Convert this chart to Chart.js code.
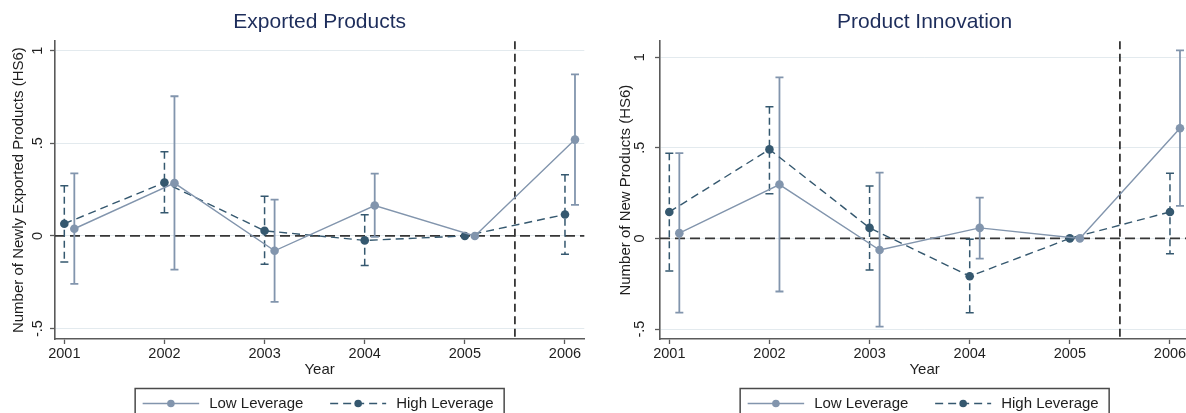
<!DOCTYPE html>
<html>
<head>
<meta charset="utf-8">
<script src="https://cdn.jsdelivr.net/npm/chart.js@4"></script>
<style>
  html, body { margin: 0; padding: 0; background: #fff; }
  body { width: 1186px; height: 413px; overflow: hidden; position: relative; }
  .panel { position: absolute; top: 0; }
  #left { left: 0; }
  #right { left: 600px; }
</style>
</head>
<body>
<div class="panel" id="left"><canvas id="cExport" width="600" height="413"></canvas></div>
<div class="panel" id="right"><canvas id="cInnov" width="606" height="413"></canvas></div>
<script>
// Event-study coefficients by year (2005 is the base year)
const years = [2001, 2002, 2003, 2004, 2005, 2006];
const yTickValues = [-0.5, 0, 0.5, 1];
const yTickLabels = ['-.5', '0', '.5', '1'];

// Exported products
const expLow     = [0.039, 0.285, -0.080, 0.164, 0, 0.520];
const expLowCiLo = [-0.259, -0.182, -0.356, -0.005, null, 0.168];
const expLowCiHi = [0.338, 0.754, 0.196, 0.336, null, 0.872];
const expHigh     = [0.066, 0.288, 0.028, -0.024, 0, 0.116];
const expHighCiLo = [-0.141, 0.125, -0.153, -0.159, null, -0.099];
const expHighCiHi = [0.271, 0.454, 0.214, 0.114, null, 0.331];

// Product innovation
const innLow     = [0.029, 0.297, -0.064, 0.058, 0, 0.608];
const innLowCiLo = [-0.410, -0.293, -0.487, -0.112, null, 0.179];
const innLowCiHi = [0.470, 0.888, 0.363, 0.225, null, 1.037];
const innHigh     = [0.146, 0.491, 0.058, -0.209, 0, 0.146];
const innHighCiLo = [-0.180, 0.247, -0.174, -0.410, null, -0.085];
const innHighCiHi = [0.470, 0.727, 0.289, -0.005, null, 0.360];

const FONT = "'Liberation Sans', Arial, Helvetica, sans-serif";
const LOW_COLOR = '#8295ad';
const HIGH_COLOR = '#35586f';
const AXIS_COLOR = '#5a5a5a';
const GRID_COLOR = '#e3eaee';
const REF_COLOR = '#363636';
const TEXT_COLOR = '#1e1e1e';
const TITLE_COLOR = '#1d2d5b';
const LOW_SHIFT = 0.1;   // low-leverage estimates are nudged right so bars don't overlap
const TREAT_YEAR = 2005.5;

Chart.defaults.font.family = FONT;

// Reference lines (y = 0, treatment) and confidence-interval whiskers
const overlayPlugin = {
  id: 'overlay',
  beforeDatasetsDraw(chart) {
    const {ctx, chartArea: a, scales: {x, y}} = chart;
    ctx.save();
    ctx.strokeStyle = REF_COLOR;
    ctx.lineWidth = 1.8;
    ctx.setLineDash([10, 5]);
    const y0 = y.getPixelForValue(0);
    ctx.beginPath(); ctx.moveTo(a.left, y0); ctx.lineTo(a.right, y0); ctx.stroke();
    const xv = x.getPixelForValue(TREAT_YEAR);
    ctx.setLineDash([8, 4.5]);
    ctx.beginPath(); ctx.moveTo(xv, a.top); ctx.lineTo(xv, a.bottom); ctx.stroke();

    chart.data.datasets.forEach(ds => {
      ctx.strokeStyle = ds.borderColor;
      ctx.lineWidth = ds.ciWidth;
      ds.data.forEach((pt, i) => {
        const lo = ds.ciLo[i], hi = ds.ciHi[i];
        if (lo == null || hi == null) return;
        const px = x.getPixelForValue(pt.x);
        const pl = y.getPixelForValue(lo), ph = y.getPixelForValue(hi);
        ctx.setLineDash(ds.ciDash);
        ctx.beginPath(); ctx.moveTo(px, ph); ctx.lineTo(px, pl); ctx.stroke();
        ctx.setLineDash([]);
        ctx.beginPath();
        ctx.moveTo(px - 4, ph); ctx.lineTo(px + 4, ph);
        ctx.moveTo(px - 4, pl); ctx.lineTo(px + 4, pl);
        ctx.stroke();
      });
    });
    ctx.restore();
  },
  afterDraw(chart) {
    // boxed legend below the axis
    const {ctx, chartArea: a} = chart;
    const boxW = 369;
    const L = (a.left + a.right) / 2 - boxW / 2;
    const T = 388.5;
    const cy = 403.5;
    ctx.save();
    ctx.strokeStyle = '#4a4a4a';
    ctx.lineWidth = 1.5;
    ctx.strokeRect(L, T, boxW, 40);
    const items = chart.data.datasets.map((ds, i) => ({ds, x0: L + (i === 0 ? 7.5 : 195), x1: L + (i === 0 ? 64 : 251), tx: L + (i === 0 ? 74 : 261)}));
    items.forEach(({ds, x0, x1, tx}) => {
      ctx.strokeStyle = ds.borderColor;
      ctx.lineWidth = ds.borderWidth;
      ctx.setLineDash(ds.borderDash || []);
      ctx.beginPath(); ctx.moveTo(x0, cy); ctx.lineTo(x1, cy); ctx.stroke();
      ctx.setLineDash([]);
      ctx.fillStyle = ds.borderColor;
      ctx.beginPath(); ctx.arc((x0 + x1) / 2, cy, 3.8, 0, Math.PI * 2); ctx.fill();
      ctx.fillStyle = TEXT_COLOR;
      ctx.font = '15px ' + FONT;
      ctx.textBaseline = 'middle';
      ctx.textAlign = 'left';
      ctx.fillText(ds.label, tx, cy);
    });
    ctx.restore();
  }
};

function makePanel(canvasId, opts) {
  const pts = (vals, shift) => years.map((yr, i) => ({x: yr + shift, y: vals[i]}));
  return new Chart(document.getElementById(canvasId), {
    type: 'line',
    data: {
      datasets: [
        {
          label: 'Low Leverage',
          data: pts(opts.low, LOW_SHIFT),
          ciLo: opts.lowLo, ciHi: opts.lowHi, ciDash: [], ciWidth: 1.8,
          borderColor: LOW_COLOR, backgroundColor: LOW_COLOR,
          borderWidth: 1.4, pointRadius: 4.3, pointBorderWidth: 0,
          pointBackgroundColor: LOW_COLOR, tension: 0
        },
        {
          label: 'High Leverage',
          data: pts(opts.high, 0),
          ciLo: opts.highLo, ciHi: opts.highHi, ciDash: [7, 4], ciWidth: 1.5,
          borderColor: HIGH_COLOR, backgroundColor: HIGH_COLOR,
          borderWidth: 1.4, borderDash: [8, 5], pointRadius: 4.3, pointBorderWidth: 0,
          pointBackgroundColor: HIGH_COLOR, tension: 0
        }
      ]
    },
    options: {
      responsive: false,
      animation: false,
      events: [],
      layout: {padding: {left: 0, right: opts.padRight, top: 0, bottom: 34}},
      plugins: {
        legend: {display: false},
        tooltip: {enabled: false},
        title: {
          display: true, text: opts.title, fullSize: false,
          color: TITLE_COLOR, font: {size: 21, weight: 'normal', family: FONT},
          padding: {top: 10, bottom: 6}
        }
      },
      scales: {
        x: {
          type: 'linear', min: 2000.907, max: 2006.193,
          afterBuildTicks: s => { s.ticks = years.map(v => ({value: v})); },
          afterFit: s => { s.height = 40; },
          ticks: {color: TEXT_COLOR, font: {size: 14.5}, padding: 1.5, callback: v => String(v), autoSkip: false, maxRotation: 0},
          grid: {drawOnChartArea: false, drawTicks: true, tickLength: 5, tickColor: AXIS_COLOR, tickWidth: 1.3},
          border: {display: true, color: AXIS_COLOR, width: 1.6},
          title: {display: true, text: 'Year', color: TEXT_COLOR, font: {size: 15}, padding: {top: 0, bottom: 0.5}}
        },
        y: {
          type: 'linear', min: opts.yMin, max: opts.yMax,
          afterBuildTicks: s => { s.ticks = yTickValues.map(v => ({value: v})); },
          afterFit: s => { s.width = opts.axisWidth; },
          ticks: {
            color: TEXT_COLOR, font: {size: 14.5}, padding: opts.tickPad,
            minRotation: 90, maxRotation: 90, crossAlign: 'center', autoSkip: false,
            callback: (v) => yTickLabels[yTickValues.indexOf(v)]
          },
          grid: {color: GRID_COLOR, lineWidth: 1, drawTicks: true, tickLength: 5, tickColor: AXIS_COLOR, tickWidth: 1.3},
          border: {display: true, color: AXIS_COLOR, width: 1.6},
          title: {display: true, text: opts.yTitle, color: TEXT_COLOR, font: {size: 15}, padding: {top: opts.titlePad, bottom: 0}}
        }
      }
    },
    plugins: [overlayPlugin]
  });
}

makePanel('cExport', {
  title: 'Exported Products',
  yTitle: 'Number of Newly Exported Products (HS6)',
  low: expLow, lowLo: expLowCiLo, lowHi: expLowCiHi,
  high: expHigh, highLo: expHighCiLo, highHi: expHighCiHi,
  yMin: -0.556, yMax: 1.051,
  axisWidth: 55, tickPad: 4, titlePad: 9.8, padRight: 15.7
});

makePanel('cInnov', {
  title: 'Product Innovation',
  yTitle: 'Number of New Products (HS6)',
  low: innLow, lowLo: innLowCiLo, lowHi: innLowCiHi,
  high: innHigh, highLo: innHighCiLo, highHi: innHighCiHi,
  yMin: -0.555, yMax: 1.088,
  axisWidth: 60, tickPad: 6.5, titlePad: 16.5, padRight: 16.7
});
</script>
</body>
</html>
